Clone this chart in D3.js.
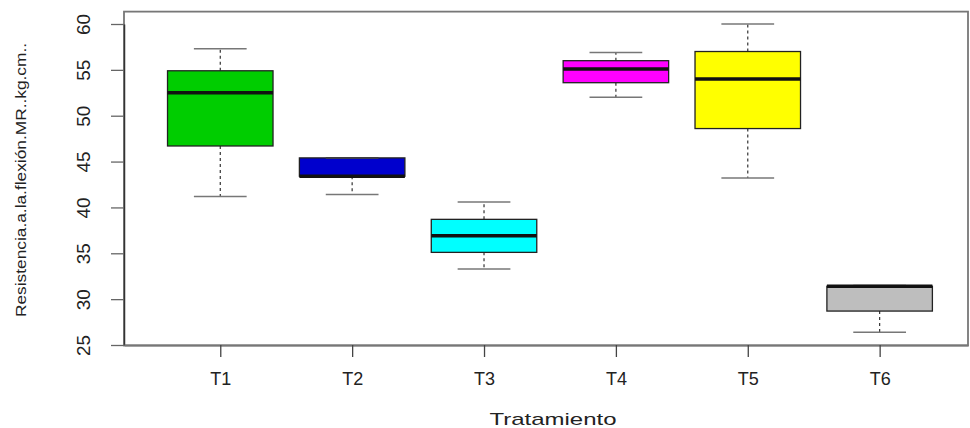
<!DOCTYPE html>
<html>
<head>
<meta charset="utf-8">
<script src="https://cdn.jsdelivr.net/npm/d3@7"></script>
<style>
  body { margin: 0; background: #fff; }
  text { font-family: "Liberation Sans", Arial, sans-serif; fill: #222; }
</style>
</head>
<body>
<div id="chart"></div>
<script>
// data
var tratamientos = ["T1", "T2", "T3", "T4", "T5", "T6"];
var minimo  = [41.2, 41.4, 33.3, 52.0, 43.2, 26.4];
var q1      = [46.7, 43.4, 35.1, 53.6, 48.6, 28.7];
var mediana = [52.5, 43.4, 36.9, 55.1, 54.0, 31.4];
var q3      = [54.9, 45.4, 38.7, 56.0, 57.0, 31.4];
var maximo  = [57.3, 45.4, 40.6, 56.9, 60.0, 31.5];
var yTicks  = [25, 30, 35, 40, 45, 50, 55, 60];
var colores = ["#00cd00", "#0000cd", "#00ffff", "#ff00ff", "#ffff00", "#bebebe"];

var width = 970, height = 428;

var svg = d3.select("#chart")
  .append("svg")
  .attr("width", width)
  .attr("height", height);

svg.append("rect").attr("width", width).attr("height", height).attr("fill", "#fff");

// x positions: index 1..6
var x = d3.scaleLinear()
  .domain([0.27, 6.67])
  .range([124, 968]);

var y = d3.scaleLinear()
  .domain([25, 60])
  .range([345, 24]);

var data = tratamientos.map(function(t, i) {
  return {name: t, i: i + 1, min: minimo[i], q1: q1[i], med: mediana[i],
          q3: q3[i], max: maximo[i], color: colores[i]};
});

var half = 0.4, staple = 0.2;

// box fill
svg.selectAll(".fill")
  .data(data).enter().append("rect")
  .attr("x", d => x(d.i - half))
  .attr("y", d => y(d.q3))
  .attr("width", d => x(d.i + half) - x(d.i - half))
  .attr("height", d => y(d.q1) - y(d.q3))
  .attr("fill", d => d.color);

// whiskers (dashed)
svg.selectAll(".wup")
  .data(data.filter(d => d.max > d.q3)).enter().append("line")
  .attr("x1", d => x(d.i)).attr("x2", d => x(d.i))
  .attr("y1", d => y(d.q3)).attr("y2", d => y(d.max))
  .attr("stroke", "#333").attr("stroke-width", 1.2)
  .attr("stroke-dasharray", "3,3");

svg.selectAll(".wdn")
  .data(data).enter().append("line")
  .attr("x1", d => x(d.i)).attr("x2", d => x(d.i))
  .attr("y1", d => y(d.q1)).attr("y2", d => y(d.min))
  .attr("stroke", "#333").attr("stroke-width", 1.2)
  .attr("stroke-dasharray", "3,3");

// staples
["max", "min"].forEach(function(k) {
  svg.selectAll(".st" + k)
    .data(data).enter().append("line")
    .attr("x1", d => x(d.i - staple)).attr("x2", d => x(d.i + staple))
    .attr("y1", d => y(d[k])).attr("y2", d => y(d[k]))
    .attr("stroke", "#777").attr("stroke-width", 1.5);
});

// box border
svg.selectAll(".border")
  .data(data).enter().append("rect")
  .attr("x", d => x(d.i - half))
  .attr("y", d => y(d.q3))
  .attr("width", d => x(d.i + half) - x(d.i - half))
  .attr("height", d => y(d.q1) - y(d.q3))
  .attr("fill", "none")
  .attr("stroke", "#222").attr("stroke-width", 1.3);

// median
svg.selectAll(".med")
  .data(data).enter().append("line")
  .attr("x1", d => x(d.i - half)).attr("x2", d => x(d.i + half))
  .attr("y1", d => y(d.med)).attr("y2", d => y(d.med))
  .attr("stroke", "#111").attr("stroke-width", 3.5);

// frame
svg.append("rect")
  .attr("x", x.range()[0]).attr("y", y(61.35))
  .attr("width", x.range()[1] - x.range()[0])
  .attr("height", y(24.95) - y(61.35))
  .attr("fill", "none")
  .attr("stroke", "#777").attr("stroke-width", 1.8);

// Y axis
var yAxis = svg.append("g")
  .attr("transform", "translate(124,0)")
  .call(d3.axisLeft(y).tickValues(yTicks).tickSize(13).tickSizeOuter(0).tickPadding(0)
    .tickFormat(d3.format("d")));
yAxis.select(".domain").attr("stroke", "#333").attr("stroke-width", 1.5);
yAxis.selectAll(".tick line").attr("stroke", "#666").attr("stroke-width", 1.3);
yAxis.selectAll(".tick text")
  .attr("x", null).attr("dy", null)
  .attr("transform", "translate(-34,0) rotate(-90)")
  .attr("text-anchor", "middle")
  .attr("font-size", 19)
  .attr("font-family", "Liberation Sans, Arial, sans-serif")
  .attr("fill", "#333")
  .attr("textLength", 21)
  .attr("lengthAdjust", "spacingAndGlyphs");

// X axis
var xAxis = svg.append("g")
  .attr("transform", "translate(0,345)")
  .call(d3.axisBottom(x).tickValues(d3.range(1, 7)).tickSize(12).tickSizeOuter(0).tickPadding(0)
    .tickFormat(d => tratamientos[d - 1]));
xAxis.select(".domain").attr("stroke", "#777").attr("stroke-width", 1.8);
xAxis.selectAll(".tick line").attr("stroke", "#444").attr("stroke-width", 1.3);
xAxis.selectAll(".tick text")
  .attr("y", 40).attr("dy", null)
  .attr("font-size", 18)
  .attr("font-family", "Liberation Sans, Arial, sans-serif")
  .attr("fill", "#333");

// axis titles
svg.append("text")
  .attr("x", 553).attr("y", 425)
  .attr("text-anchor", "middle")
  .attr("font-size", 17)
  .attr("fill", "#333")
  .attr("textLength", 127)
  .attr("lengthAdjust", "spacingAndGlyphs")
  .text("Tratamiento");

svg.append("text")
  .attr("transform", "translate(26,180) rotate(-90)")
  .attr("text-anchor", "middle")
  .attr("font-size", 15)
  .attr("fill", "#333")
  .attr("textLength", 274)
  .attr("lengthAdjust", "spacingAndGlyphs")
  .text("Resistencia.a.la.flexión.MR..kg.cm..");
</script>
</body>
</html>
